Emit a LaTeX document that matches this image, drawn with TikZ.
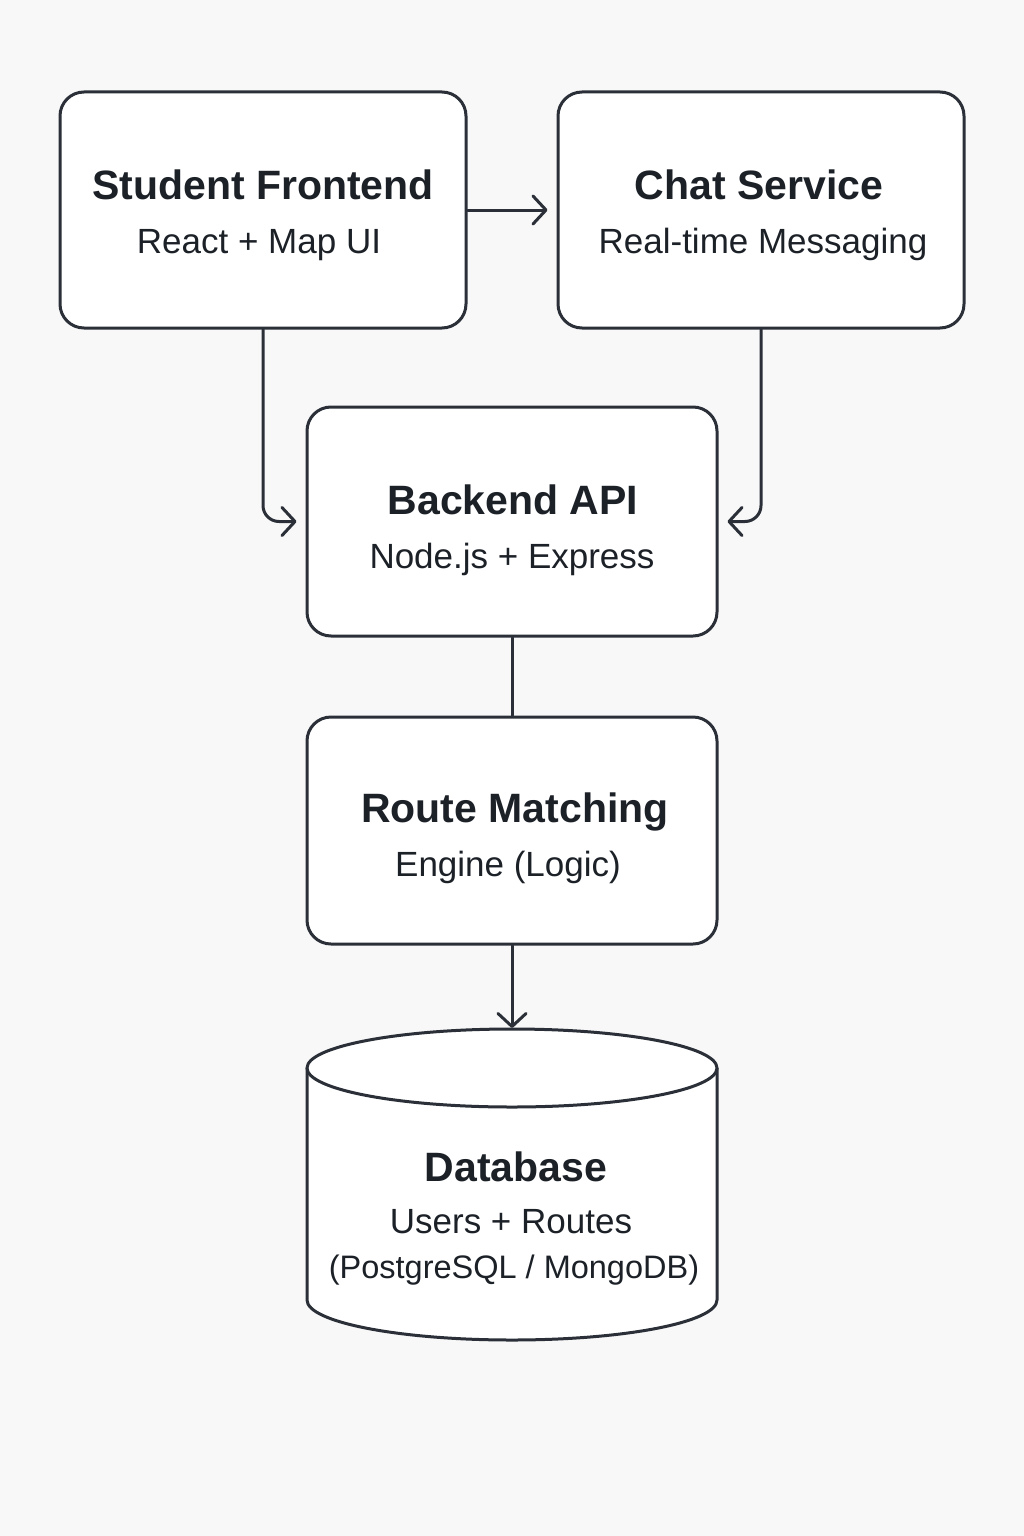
\documentclass[tikz,border=0pt]{standalone}
\usepackage{fontspec}
\setmainfont{Liberation Sans}
\usetikzlibrary{arrows.meta}
\definecolor{ink}{HTML}{2B3038}
\definecolor{txt}{HTML}{1C2128}
\definecolor{bg}{HTML}{F8F8F8}
\begin{document}
\begin{tikzpicture}[x=1pt,y=-1pt,
 box/.style={draw=ink, line width=3pt, fill=white, rounded corners=24pt, minimum width=406pt, minimum height=236pt, inner sep=0pt},
 title/.style={anchor=base, text=txt, font=\fontsize{41}{46}\selectfont\bfseries},
 sub/.style={anchor=base, text=txt, font=\fontsize{35}{40}\selectfont},
 conn/.style={draw=ink, line width=3pt, rounded corners=16pt, line cap=round, line join=round},
 tip/.style={-{Straight Barb[length=13pt,width=28pt,line cap=round,line join=round]}}
]
\fill[bg] (0,0) rectangle (1024,1536);
\useasboundingbox (0,0) rectangle (1024,1536);

\node[box] (fe) at (263,210) {};
\node[box] (chat) at (761,210) {};
\node[box, minimum width=410pt, minimum height=229pt] (api) at (512,521.5) {};
\node[box, minimum width=410pt, minimum height=227pt] (rm) at (512,830.5) {};

\node[title] (fe-t) at (263,199) {Student Frontend};
\node[sub] (fe-s) at (259,253) {React + Map UI};
\node[title] (chat-t) at (759,199) {Chat Service};
\node[sub] (chat-s) at (763,253) {Real-time Messaging};
\node[title] (api-t) at (513,514) {Backend API};
\node[sub] (api-s) at (512,568) {Node.js + Express};
\node[title] (rm-t) at (515,822) {Route Matching};
\node[sub] (rm-s) at (508,876) {Engine (Logic)};

% database cylinder
\draw[ink, line width=3pt, fill=white, line join=round] (307,1068) -- (307,1300) arc[start angle=180, end angle=0, x radius=205, y radius=40] -- (717,1068);
\draw[ink, line width=3pt, fill=white] (512,1068) ellipse [x radius=205, y radius=39];
\coordinate (dbtop) at (512,1029);

\node[title] (db-t) at (516,1181) {Database};
\node[sub] (db-s1) at (511,1233) {Users + Routes};
\node[sub, font=\fontsize{32.5}{38}\selectfont] (db-s2) at (514,1278) {(PostgreSQL / MongoDB)};

\draw[conn, tip, shorten >=9pt] (fe.east) -- (chat.west);
\draw[conn, tip, shorten >=9pt] (fe.south) |- (api.west);
\draw[conn, tip, shorten >=9pt] (chat.south) |- (api.east);
\draw[conn] (api.south) -- (rm.north);
\draw[conn, tip, shorten >=1pt] (rm.south) -- (dbtop);
\end{tikzpicture}
\end{document}
